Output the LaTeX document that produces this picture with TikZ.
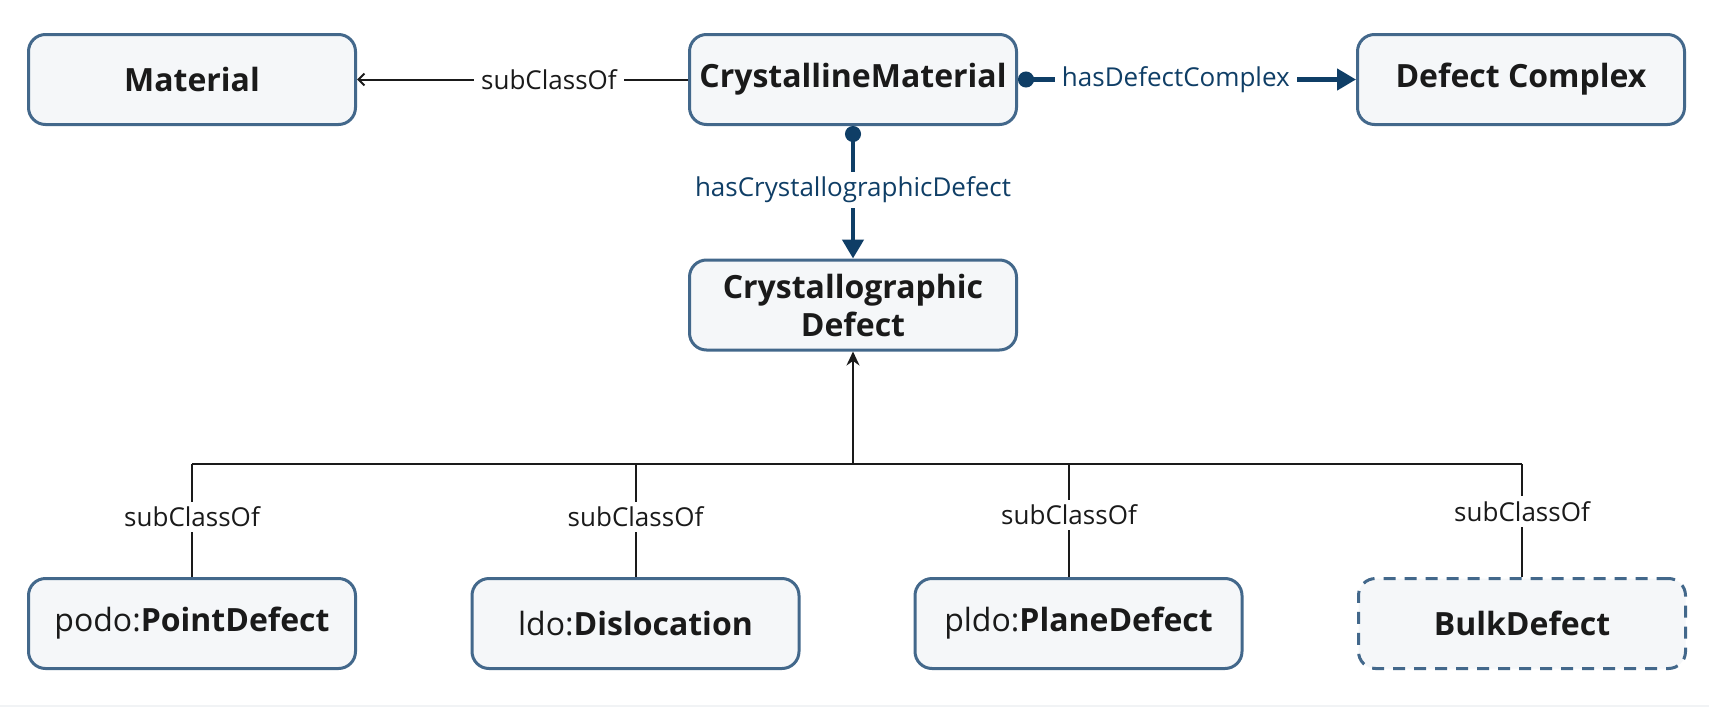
\documentclass[tikz,border=0pt]{standalone}
\usepackage{fontspec}
\setmainfont{Open Sans}
\usetikzlibrary{arrows.meta}
\definecolor{boxfill}{HTML}{F5F7F9}
\definecolor{boxline}{HTML}{43688B}
\definecolor{relblue}{HTML}{0F3E66}
\definecolor{txt}{HTML}{1A1A1A}
\definecolor{edgegray}{HTML}{F1F3F5}
\tikzset{
  cls/.style={draw=boxline, fill=boxfill, line width=3pt, rounded corners=17pt,
    minimum width=327pt, minimum height=90pt, align=center, inner sep=0pt,
    font=\fontsize{32}{38}\selectfont, text=txt},
  clsdash/.style={cls, dash pattern=on 12pt off 9pt},
  sub/.style={draw=txt, line width=2pt},
  subarrow/.style={sub, -{Stealth[length=14pt,width=13pt]}},
  matarrow/.style={sub, -{Straight Barb[length=6pt,width=12pt]}},
  rel/.style={draw=relblue, line width=4.5pt, {Circle[length=16pt]}-{Triangle[length=19pt,width=21pt]}},
  lbl/.style={fill=white, font=\fontsize{26}{30}\selectfont, text=txt, inner xsep=7pt, inner ysep=5pt},
  bluelbl/.style={lbl, text=relblue},
}
\begin{document}
\begin{tikzpicture}[x=1pt,y=-1pt]
\fill[white] (0,0) rectangle (1709,707);
\fill[edgegray] (0,704.5) rectangle (1709,707);
\useasboundingbox (0,0) rectangle (1709,707);

\node[cls] (mat) at (192,79.5) {\textbf{Material}};
\node[cls] (cm) at (853,79.5) {\textbf{CrystallineMaterial}};
\node[cls] (dc) at (1521,79.5) {\textbf{Defect Complex}};
\node[cls] (cd) at (853,305) {\textbf{Crystallographic}\\\textbf{Defect}};

\node[cls] (pd) at (192,623.5) {podo:\textbf{PointDefect}};
\node[cls] (dl) at (635.5,623.5) {ldo:\textbf{Dislocation}};
\node[cls] (pl) at (1078.5,623.5) {pldo:\textbf{PlaneDefect}};
\node[clsdash] (bd) at (1522,623.5) {\textbf{BulkDefect}};

% subClassOf Material
\draw[matarrow] (cm.west) -- (mat.east) node[lbl, pos=0.42] {subClassOf};

% object properties
\draw[rel] (cm.east) -- (dc.west) node[bluelbl, pos=0.467] {hasDefectComplex};
\draw[rel] (cm.south) -- (cd.north) node[bluelbl, pos=0.48] {hasCrystallographicDefect};

% tree
\coordinate (j) at (853,464);
\coordinate (pltop) at ([xshift=-9.5pt]pl.north);
\draw[subarrow] (j) -- (cd.south);
\draw[sub] (pd.north |- j) -- (bd.north |- j);
\draw[sub] (pd.north) -- (pd.north |- j) node[lbl, pos=0.53] {subClassOf};
\draw[sub] (dl.north) -- (dl.north |- j) node[lbl, pos=0.53] {subClassOf};
\draw[sub] (pltop) -- (pltop |- j) node[lbl, pos=0.55] {subClassOf};
\draw[sub] (bd.north) -- (bd.north |- j) node[lbl, pos=0.58] {subClassOf};
\end{tikzpicture}
\end{document}
